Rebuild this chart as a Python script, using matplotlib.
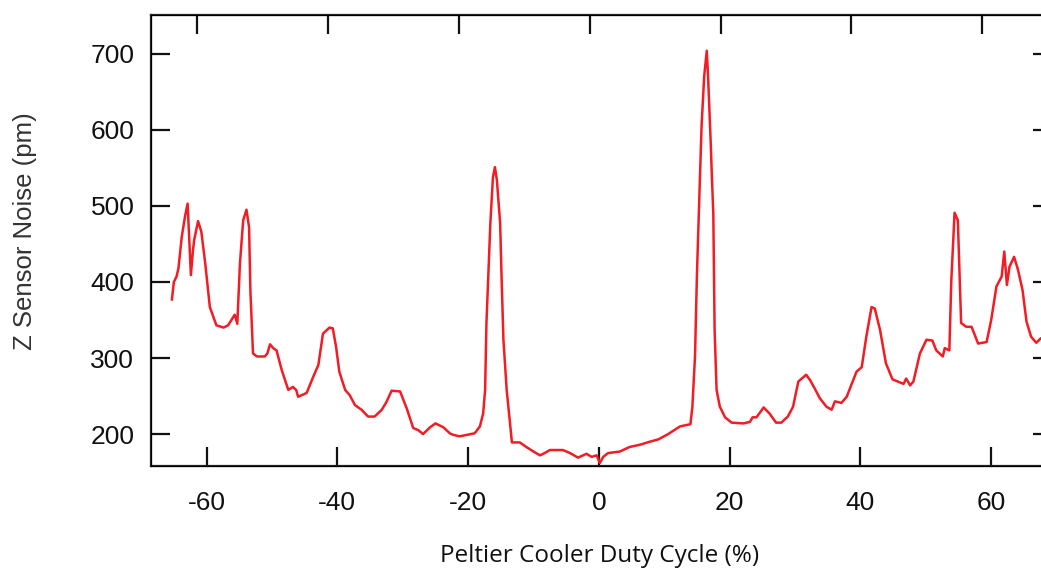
import matplotlib
matplotlib.use("Agg")
import matplotlib.pyplot as plt

duty_cycle = [
    -65.3, -65.0, -64.6, -64.3, -63.8, -63.3, -62.9, -62.4, -62.1, -61.9, -61.3, -60.8,
    -60.2, -59.5, -58.5, -57.4, -56.7, -55.9, -55.7, -55.3, -54.9, -54.4, -53.9, -53.5,
    -53.3, -52.9, -52.3, -51.1, -50.7, -50.3, -49.8, -49.3, -48.5, -47.5, -46.8, -46.3,
    -46.0, -44.7, -43.7, -42.9, -42.2, -41.2, -40.7, -40.2, -39.7, -38.8, -38.1, -37.3,
    -36.3, -35.3, -34.3, -33.2, -32.5, -31.7, -30.4, -29.4, -28.4, -27.6, -26.9, -25.8,
    -25.0, -23.8, -22.8, -22.3, -21.3, -19.0, -18.2, -17.7, -17.4, -17.2, -16.9, -16.6,
    -16.2, -15.9, -15.6, -15.1, -14.9, -14.6, -14.1, -13.3, -12.1, -11.1, -10.0, -9.0,
    -8.3, -7.5, -5.5, -4.4, -3.2, -1.9, -1.1, -0.35, 0.15, 0.66, 1.4, 3.2, 4.7, 6.3,
    7.8, 9.1, 10.6, 12.4, 14.0, 14.3, 14.7, 15.0, 15.4, 15.7, 16.1, 16.5, 16.7, 17.1,
    17.3, 17.5, 17.7, 18.0, 18.5, 19.3, 20.3, 22.1, 23.1, 23.5, 24.1, 25.2, 26.1, 27.1,
    27.9, 28.9, 29.7, 30.5, 31.7, 32.3, 33.0, 33.8, 34.8, 35.6, 36.1, 37.1, 37.9, 39.4,
    40.2, 40.9, 41.7, 42.2, 43.0, 43.9, 44.9, 46.0, 46.6, 47.0, 47.6, 48.1, 49.1, 50.1,
    51.0, 51.6, 52.6, 52.9, 53.6, 53.9, 54.4, 54.9, 55.4, 56.2, 57.0, 58.0, 59.3, 60.0,
    60.8, 61.6, 62.0, 62.4, 62.8, 63.5, 64.1, 64.8, 65.4, 66.1, 66.9, 67.6, 68.5,
]
noise_pm = [
    377, 400, 407, 418, 459, 486, 503, 409, 440, 455, 480, 466,
    424, 367, 343, 340, 343, 354, 357, 345, 424, 481, 495, 472,
    389, 306, 302, 302, 306, 318, 313, 310, 284, 258, 262, 258,
    249, 254, 275, 291, 332, 340, 339, 315, 282, 258, 251, 238,
    232, 223, 223, 232, 242, 257, 256, 234, 208, 205, 200, 209,
    214, 209, 201, 199, 197, 201, 210, 227, 258, 345, 411, 477,
    538, 551, 534, 477, 411, 324, 258, 189, 189, 183, 177, 172,
    175, 179, 179, 175, 169, 174, 170, 172, 162, 170, 175, 177, 183, 186,
    190, 193, 200, 210, 213, 236, 302, 411, 521, 604, 670, 704, 670, 584,
    534, 490, 337, 258, 236, 222, 215, 214, 216, 222, 222, 235, 227, 215,
    215, 223, 236, 269, 278, 271, 260, 247, 236, 232, 243, 241, 249, 282,
    288, 328, 367, 365, 337, 293, 272, 268, 266, 273, 264, 269, 306, 324,
    323, 310, 302, 313, 310, 402, 491, 481, 346, 341, 341, 319, 321, 350,
    394, 407, 440, 396, 420, 433, 416, 389, 348, 328, 320, 326, 322,
]

x_ticks = [-60, -40, -20, 0, 20, 40, 60]
y_ticks = [200, 300, 400, 500, 600, 700]
x_label = "Peltier Cooler Duty Cycle (%)"
y_label = "Z Sensor Noise (pm)"

plt.rcParams['font.family'] = ['Liberation Sans', 'DejaVu Sans']

W, H = 1041, 571
fig = plt.figure(figsize=(W / 100, H / 100), dpi=100)
L, R, T, B = 151, 1052, 15, 466
ax = fig.add_axes([L / W, 1 - B / H, (R - L) / W, (B - T) / H])

ax.plot(duty_cycle, noise_pm, color='#f21c24', lw=1.8)

ax.set_xlim(-68.5, 69.3)
ax.set_ylim(158, 751)
ax.set_xticks(x_ticks)
ax.set_yticks(y_ticks)
ax.set_xticklabels([str(t) for t in x_ticks])
ax.set_yticklabels([str(t) for t in y_ticks])

for s in ax.spines.values():
    s.set_linewidth(1.6)
    s.set_color('#222222')

ax.tick_params(axis='both', direction='in', length=13.5, width=1.6, color='#111111',
               labelsize=19, labelcolor='#111111')
ax.tick_params(axis='x', pad=18)
ax.tick_params(axis='y', pad=12, right=True)

# top ticks (slightly offset in the original)
ax_top = ax.twiny()
ax_top.set_xlim(ax.get_xlim())
ax_top.set_xticks([t - 1.4 for t in x_ticks])
ax_top.set_xticklabels([])
ax_top.tick_params(axis='x', direction='in', length=13.5, width=1.6, color='#111111')

fig.text(600 / W, 1 - 556 / H, x_label, ha='center', va='center', fontsize=17.5,
         color='#111111', family=['Open Sans', 'DejaVu Sans'])
fig.text(25 / W, 1 - 231 / H, y_label, ha='center', va='center', rotation=90,
         fontsize=18.5, color='#333333')

fig.savefig('out.png', dpi=100)
